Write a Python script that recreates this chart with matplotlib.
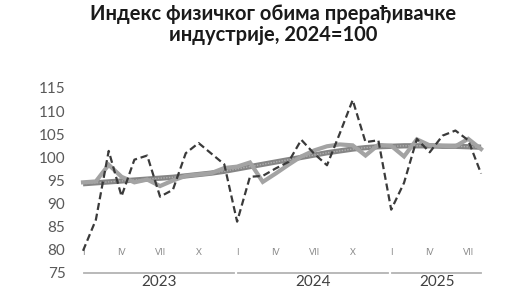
import matplotlib
matplotlib.use("Agg")
import matplotlib.pyplot as plt

plt.rcParams['font.family'] = ['Lato', 'Open Sans', 'DejaVu Sans']

years = ['2023', '2024', '2025']
months_per_year = [12, 12, 8]
month_labels = ['I', '', '', 'IV', '', '', 'VII', '', '', 'X', '', '']

index_values = [79.8, 86.5, 101.4, 91.6, 99.5, 100.4, 91.5, 93.0, 100.9, 103.1, 100.8, 98.5,
                86.1, 95.8, 96.0, 97.6, 99.0, 103.8, 100.8, 98.3, 105.2, 112.4, 103.3, 103.7,
                88.7, 94.5, 104.0, 101.1, 104.7, 105.8, 103.7, 96.5]
seasonal_values = [94.6, 94.8, 98.4, 95.8, 94.6, 95.2, 93.8, 95.0, 96.0, 96.3, 96.6, 97.7,
                   98.0, 98.9, 94.7, 96.5, 98.4, 100.2, 101.5, 102.4, 102.8, 102.6, 100.4, 102.7,
                   102.5, 100.2, 103.9, 102.6, 102.5, 102.4, 104.0, 101.8]
trend_values = [94.3, 94.5, 94.7, 94.9, 95.1, 95.3, 95.5, 95.7, 96.0, 96.3, 96.6, 97.0,
                97.5, 98.0, 98.5, 99.0, 99.5, 100.0, 100.5, 101.0, 101.4, 101.8, 102.1, 102.3,
                102.4, 102.5, 102.5, 102.5, 102.4, 102.4, 102.3, 102.2]
y_ticks = [75, 80, 85, 90, 95, 100, 105, 110, 115]
title = "Индекс физичког обима прерађивачке\nиндустрије, 2024=100"

W, H = 531, 290
fig = plt.figure(figsize=(W / 100, H / 100), dpi=100)
ax = fig.add_axes([76.6 / W, 17 / H, 410.9 / W, 185 / H])

x = list(range(len(index_values)))
ax.plot(x, trend_values, color='#858585', lw=3.8, solid_capstyle='butt', zorder=2)
ax.plot(x, trend_values, color='#b0b0b0', lw=1.0, ls=(0, (1, 1)), zorder=2.1)
ax.plot(x, seasonal_values, color='#a3a3a3', lw=3.0, solid_joinstyle='miter', zorder=3)
ax.plot(x, index_values, color='#3a3a3a', lw=1.6, ls=(0, (3.2, 1.7)), zorder=4)

ax.set_xlim(-0.5, 31.5)
ax.set_ylim(75, 115)
ax.set_yticks(y_ticks)
ax.set_yticklabels([str(v) for v in y_ticks], color='#595959', fontsize=11)
ax.tick_params(axis='y', length=0, pad=8)
ax.set_xticks([])
for s in ax.spines.values():
    s.set_visible(False)

xtr = ax.get_xaxis_transform()
start = 0
for yr, n in zip(years, months_per_year):
    for i in range(n):
        lab = month_labels[i]
        if lab:
            ax.text(start + i, 0.11, lab, transform=xtr, ha='center', va='center',
                    fontsize=6.5, color='#8a8a8a')
    x0 = start + 0.1
    x1 = start + n - 1 + (0.75 if start + n < len(index_values) else 0.0)
    ax.plot([x0, x1], [0, 0], transform=xtr, color='#b3b3b3', lw=1.3, clip_on=False)
    ax.text((x0 + x1) / 2, -0.05, yr, transform=xtr, ha='center', va='center',
            fontsize=11, color='#404040')
    start += n

fig.text(273 / W, 1 - 24.5 / H, title, ha='center', va='center', fontsize=14.5,
         fontweight='bold', color='#1a1a1a', linespacing=1.05)

fig.savefig('out.png', dpi=100)
